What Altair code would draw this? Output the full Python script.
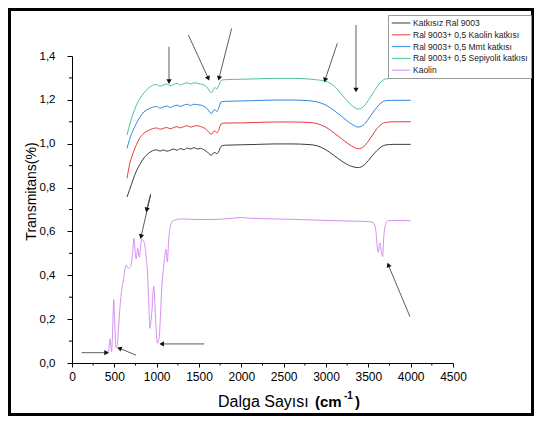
import math
import altair as alt
import pandas as pd

# ---------------- data ----------------
series_names = [
    "Katkısız Ral 9003",
    "Ral 9003+ 0,5 Kaolin katkısı",
    "Ral 9003+ 0,5 Mmt katkısı",
    "Ral 9003+ 0,5 Sepiyolit katkısı",
    "Kaolin",
]
series_colors = ["#3c3c3c", "#e8393f", "#2f86e0", "#4cc496", "#d590f0"]

ral_x = [650, 680, 720, 760, 800, 850, 900, 950, 1000, 1040, 1080, 1120, 1160, 1200,
         1240, 1280, 1320, 1360, 1400, 1440, 1480, 1520, 1560, 1600, 1630, 1650, 1670,
         1690, 1710, 1730, 1760, 1800, 2000, 2200, 2400, 2600, 2800, 2900, 3000, 3100,
         3200, 3300, 3380, 3450, 3500, 3550, 3600, 3650, 3700, 3800, 4000]

black_y = [0.757, 0.790, 0.835, 0.875, 0.905, 0.935, 0.955, 0.968, 0.972, 0.966, 0.972,
           0.966, 0.970, 0.976, 0.970, 0.978, 0.973, 0.980, 0.976, 0.982, 0.976, 0.979,
           0.972, 0.962, 0.950, 0.948, 0.958, 0.960, 0.954, 0.962, 0.988, 0.993, 0.995,
           0.997, 0.999, 0.999, 0.996, 0.990, 0.972, 0.945, 0.917, 0.897, 0.891, 0.903,
           0.923, 0.947, 0.968, 0.985, 0.994, 0.997, 0.997]

red_y = [0.842, 0.905, 0.955, 0.995, 1.025, 1.048, 1.060, 1.068, 1.072, 1.066, 1.070,
         1.074, 1.068, 1.074, 1.078, 1.072, 1.078, 1.082, 1.076, 1.080, 1.082, 1.078,
         1.072, 1.060, 1.046, 1.044, 1.055, 1.058, 1.050, 1.060, 1.090, 1.094, 1.095,
         1.097, 1.099, 1.099, 1.097, 1.091, 1.075, 1.048, 1.018, 0.990, 0.977, 0.988,
         1.012, 1.040, 1.068, 1.087, 1.097, 1.100, 1.100]

blue_y = [0.979, 1.020, 1.060, 1.092, 1.120, 1.145, 1.158, 1.166, 1.170, 1.162, 1.168,
          1.172, 1.165, 1.172, 1.176, 1.170, 1.176, 1.180, 1.174, 1.180, 1.178, 1.176,
          1.170, 1.158, 1.142, 1.138, 1.152, 1.155, 1.146, 1.160, 1.190, 1.193, 1.195,
          1.197, 1.199, 1.199, 1.196, 1.190, 1.176, 1.150, 1.120, 1.090, 1.076, 1.088,
          1.112, 1.140, 1.166, 1.186, 1.196, 1.198, 1.198]

green_y = [1.040, 1.085, 1.135, 1.175, 1.205, 1.232, 1.252, 1.266, 1.270, 1.262, 1.268,
           1.272, 1.264, 1.270, 1.275, 1.268, 1.274, 1.278, 1.272, 1.278, 1.276, 1.272,
           1.268, 1.255, 1.238, 1.232, 1.248, 1.256, 1.250, 1.262, 1.288, 1.292, 1.294,
           1.296, 1.298, 1.298, 1.295, 1.291, 1.284, 1.262, 1.218, 1.176, 1.158, 1.172,
           1.198, 1.228, 1.258, 1.282, 1.295, 1.298, 1.298]

kaolin_x = [400, 430, 450, 468, 480, 493, 505, 520, 535, 550, 567, 590, 610, 638, 665,
            693, 715, 732, 748, 758, 776, 795, 823, 850, 874, 890, 902, 914, 921, 935,
            945, 965, 984, 997, 1008, 1020, 1031, 1045, 1059, 1087, 1110, 1126, 1142,
            1165, 1190, 1217, 1295, 1500, 1700, 1900, 2000, 2100, 2400, 2700, 3000,
            3300, 3500, 3560, 3590, 3605, 3618, 3630, 3638, 3650, 3669, 3680, 3697,
            3715, 3736, 3850, 4000]
kaolin_y = [0.050, 0.052, 0.110, 0.052, 0.150, 0.290, 0.180, 0.070, 0.085, 0.160, 0.257,
            0.340, 0.385, 0.447, 0.432, 0.440, 0.500, 0.568, 0.500, 0.475, 0.523, 0.482,
            0.564, 0.553, 0.492, 0.420, 0.318, 0.200, 0.158, 0.200, 0.242, 0.351, 0.227,
            0.130, 0.090, 0.100, 0.120, 0.220, 0.333, 0.455, 0.518, 0.462, 0.561, 0.629,
            0.648, 0.652, 0.657, 0.654, 0.655, 0.660, 0.664, 0.660, 0.657, 0.654, 0.650,
            0.647, 0.645, 0.640, 0.600, 0.530, 0.505, 0.540, 0.548, 0.520, 0.485, 0.560,
            0.622, 0.643, 0.649, 0.650, 0.649]

# annotation arrows (data units): tail (x1, y1) -> head (x2, y2)
arrow_x1 = [1146, 1374, 1886, 3134, 3354, 929, 114, 756, 1563, 3992, 929]
arrow_y1 = [1.442, 1.496, 1.526, 1.458, 1.541, 0.766, 0.047, 0.036, 0.087, 0.211, 0.771]
arrow_x2 = [1146, 1610, 1736, 2988, 3354, 815, 409, 559, 1059, 3736, 882]
arrow_y2 = [1.283, 1.298, 1.298, 1.290, 1.245, 0.576, 0.047, 0.067, 0.087, 0.447, 0.698]

x_ticks = [0, 500, 1000, 1500, 2000, 2500, 3000, 3500, 4000, 4500]
x_minor = [250, 750, 1250, 1750, 2250, 2750, 3250, 3750, 4250]
y_ticks = [0.0, 0.2, 0.4, 0.6, 0.8, 1.0, 1.2, 1.4]
y_minor = [0.1, 0.3, 0.5, 0.7, 0.9, 1.1, 1.3]

# ---------------- frames ----------------
rows = []
for name, ys in zip(series_names[:4], [black_y, red_y, blue_y, green_y]):
    for xv, yv in zip(ral_x, ys):
        rows.append({"series": name, "x": xv, "y": yv})
for xv, yv in zip(kaolin_x, kaolin_y):
    rows.append({"series": series_names[4], "x": xv, "y": yv})
df = pd.DataFrame(rows)

W, H = 381, 307
X0, X1, Y0, Y1 = 0, 4500, 0.0, 1.4
sx = W / (X1 - X0)
sy = H / (Y1 - Y0)
angles = []
for a, b, c, d in zip(arrow_x1, arrow_y1, arrow_x2, arrow_y2):
    dx = (c - a) * sx
    dy = -(d - b) * sy
    angles.append(math.degrees(math.atan2(dx, -dy)) % 360)
arrows = pd.DataFrame({"x1": arrow_x1, "y1": arrow_y1, "x2": arrow_x2, "y2": arrow_y2,
                       "ang": angles})

FONT = "Liberation Sans"
xs = alt.Scale(domain=[X0, X1], nice=False, zero=False)
ys = alt.Scale(domain=[Y0, Y1], nice=False)

lines = alt.Chart(df).mark_line(strokeWidth=1, interpolate="monotone").encode(
    x=alt.X("x:Q", scale=xs,
            axis=alt.Axis(values=x_ticks, format="d", title=None, labelFontSize=12,
                          labelFont=FONT, labelColor="#000", tickSize=4, labelPadding=4,
                          tickColor="#000", domainColor="#000", grid=False,
                          labelFlush=False)),
    y=alt.Y("y:Q", scale=ys,
            axis=alt.Axis(values=y_ticks, title="Transmitans(%)",
                          labelExpr="replace(format(datum.value, '.1f'), '.', ',')",
                          labelFontSize=11.5, labelFont=FONT, labelColor="#000",
                          tickSize=5, labelPadding=12, tickColor="#000",
                          domainColor="#000", grid=False, titleFont=FONT,
                          titleFontSize=14, titleFontWeight="normal", titleColor="#000",
                          titleX=-34, titleY=135)),
    color=alt.Color("series:N",
                    scale=alt.Scale(domain=series_names, range=series_colors),
                    sort=series_names,
                    legend=alt.Legend(title=None, orient="none", legendX=316, legendY=-41,
                                      symbolType="M-1,0H3.4", symbolSize=72,
                                      symbolStrokeWidth=1, labelFontSize=8.5,
                                      labelFont=FONT, labelColor="#222",
                                      labelOffset=12, padding=3, rowPadding=1.8,
                                      strokeColor="#999", fillColor="white",
                                      labelLimit=300)),
    detail="series:N",
)

arrow_lines = alt.Chart(arrows).mark_rule(color="#333", strokeWidth=0.8).encode(
    x=alt.X("x1:Q", scale=xs), y=alt.Y("y1:Q", scale=ys),
    x2="x2:Q", y2="y2:Q")
arrow_heads = alt.Chart(arrows).mark_point(shape="triangle-up", filled=True,
                                           color="#111", size=28, opacity=1).encode(
    x=alt.X("x2:Q", scale=xs), y=alt.Y("y2:Q", scale=ys),
    angle=alt.Angle("ang:Q", scale=None))

xm = alt.Chart(pd.DataFrame({"v": x_minor})).mark_rule(color="#000", strokeWidth=1).encode(
    x=alt.X("v:Q", scale=xs), y=alt.value(H), y2=alt.value(H + 2.5))
ym = alt.Chart(pd.DataFrame({"v": y_minor})).mark_rule(color="#000", strokeWidth=1).encode(
    y=alt.Y("v:Q", scale=ys), x=alt.value(-3), x2=alt.value(0))

one = pd.DataFrame({"a": [0]})
t1 = alt.Chart(one).mark_text(text="Dalga Sayısı", font=FONT, fontSize=16, align="left",
                              baseline="middle", color="#000").encode(
    x=alt.value(146), y=alt.value(346))
t2 = alt.Chart(one).mark_text(text="(cm", font=FONT, fontSize=15, fontWeight="bold",
                              align="left", baseline="middle", color="#000").encode(
    x=alt.value(243), y=alt.value(346))
t3 = alt.Chart(one).mark_text(text="-1", font=FONT, fontSize=10, fontWeight="bold",
                              align="left", baseline="middle", color="#000").encode(
    x=alt.value(272), y=alt.value(340))
t4 = alt.Chart(one).mark_text(text=")", font=FONT, fontSize=15, fontWeight="bold",
                              align="left", baseline="middle", color="#000").encode(
    x=alt.value(283), y=alt.value(346))

frame = alt.Chart(one).mark_rect(fill="transparent", stroke="#000", strokeWidth=3).encode(
    x=alt.value(-64 + 1.5), x2=alt.value(W + 81 - 1.5),
    y=alt.value(-48 + 1.5), y2=alt.value(H + 53 - 1.5))

chart = alt.layer(lines, arrow_lines, arrow_heads, xm, ym, t1, t2, t3, t4, frame).properties(
    width=W, height=H,
    autosize=alt.AutoSizeParams(type="none"),
    padding={"left": 64, "top": 48, "right": 81, "bottom": 53},
    background="white",
).configure_view(stroke="transparent")

chart.save("out.html", embed_options={"renderer": "svg", "actions": False})
